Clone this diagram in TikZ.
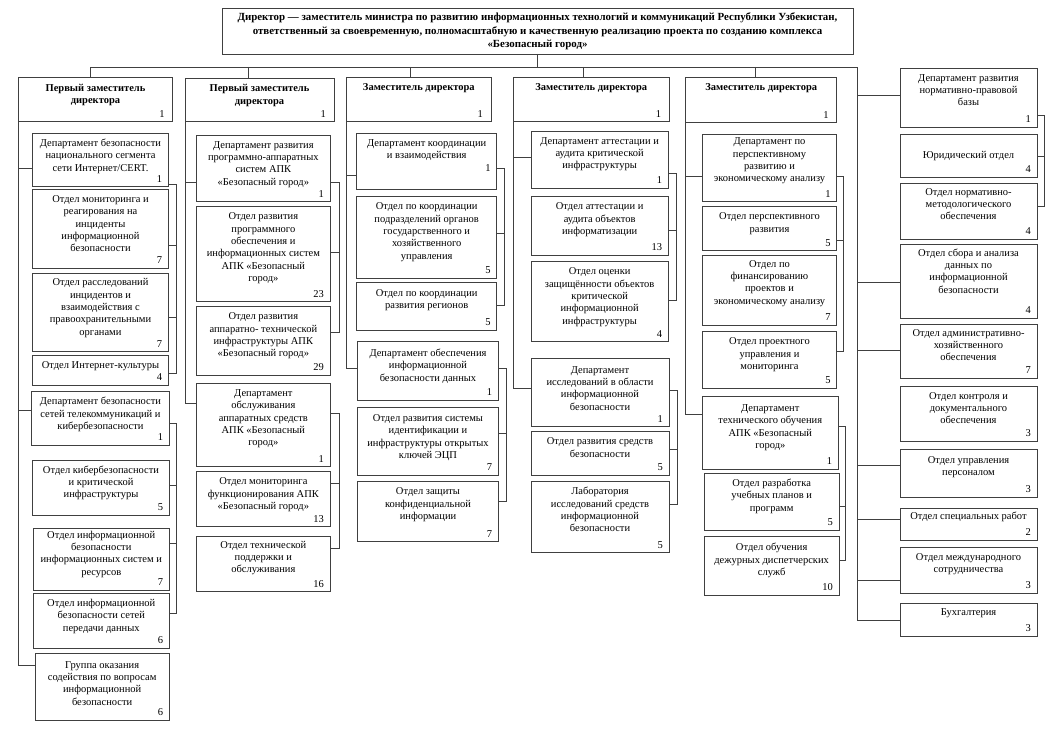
\documentclass[tikz,border=0pt]{standalone}
\usepackage{fontspec}
\setmainfont{Liberation Serif}
\tikzset{
  boxst/.style={draw=black!75, line width=0.7pt, inner sep=0pt, outer sep=0pt},
  txt/.style={inner sep=0pt, align=center, font=\fontsize{10.5}{12.3}\selectfont, anchor=north},
  htxt/.style={inner sep=0pt, align=center, font=\bfseries\fontsize{10.5}{12.7}\selectfont, anchor=north},
  numst/.style={inner sep=0pt, font=\fontsize{10.5}{12}\selectfont, anchor=east},
  ln/.style={draw=black!75, line width=0.7pt},
}
% name, x1, y1, x2, y2, first-line y, text, number
\newcommand\ob[8]{%
  \node[boxst, anchor=north west, minimum width={(#4-#2)*1pt}, minimum height={(#5-#3)*1pt}] (#1) at (#2,#3) {};
  \node[txt] (#1t) at ({(#2+#4)/2},{#6-5}) {\rule{0pt}{8pt}#7};
  \node[numst] (#1n) at ({#4-6},{#5-8}) {#8};
}
\newcommand\hb[8]{%
  \node[boxst, anchor=north west, minimum width={(#4-#2)*1pt}, minimum height={(#5-#3)*1pt}] (#1) at (#2,#3) {};
  \node[htxt] (#1t) at ({(#2+#4)/2},{#6-5}) {\rule{0pt}{8pt}#7};
  \node[numst] (#1n) at ({#4-8},{#5-8}) {#8};
}
\begin{document}
\begin{tikzpicture}[x=1pt,y=-1pt]
\useasboundingbox (0,0) rectangle (1054,738);
\fill[white] (0,0) rectangle (1054,738);

% title
\node[boxst, anchor=north west, minimum width=631pt, minimum height=46pt] (title) at (222,8) {};
\node[inner sep=0pt, align=center, anchor=north, font=\bfseries\fontsize{10.9}{13.5}\selectfont] (titlet) at (537.5,12.5) {\rule{0pt}{8pt}Директор — заместитель министра по развитию информационных технологий и коммуникаций Республики Узбекистан,\\ответственный за своевременную, полномасштабную и качественную реализацию проекта по созданию комплекса\\«Безопасный город»};

% heads
\hb{h1}{18.3}{77.3}{172.7}{121.7}{88}{Первый заместитель\\директора}{1}
\hb{h2}{185}{78.3}{334}{121.7}{88.3}{Первый заместитель\\директора}{1}
\hb{h3}{346.7}{77.3}{491}{121.7}{87.3}{Заместитель директора}{1}
\hb{h4}{513.3}{77.3}{669.3}{121.7}{87.3}{Заместитель директора}{1}
\hb{h5}{685.7}{77.3}{836.7}{122.7}{87.3}{Заместитель директора}{1}

% column 1
\ob{c1d1}{32.7}{133.3}{168.3}{186.7}{143.3}{Департамент безопасности\\национального сегмента\\сети Интернет/CERT.}{1}
\ob{c1s1}{32.7}{189.3}{168.3}{268.3}{199.3}{Отдел мониторинга и\\реагирования на\\инциденты\\информационной\\безопасности}{7}
\ob{c1s2}{32.7}{273.3}{168.3}{351.7}{282.7}{Отдел расследований\\инцидентов и\\взаимодействия с\\правоохранительными\\органами}{7}
\ob{c1s3}{32.7}{355}{168.3}{385}{365.7}{Отдел Интернет-культуры}{4}
\ob{c1d2}{31.7}{391.7}{169.3}{445}{401.7}{Департамент безопасности\\сетей телекоммуникаций и\\кибербезопасности}{1}
\ob{c1s4}{32.7}{460}{169.3}{515}{470}{Отдел кибербезопасности\\и критической\\инфраструктуры}{5}
\ob{c1s5}{33.3}{528.3}{169.3}{590}{535}{Отдел информационной\\безопасности\\информационных систем и\\ресурсов}{7}
\ob{c1s6}{33.3}{593.3}{169.3}{648.3}{603.3}{Отдел информационной\\безопасности сетей\\передачи данных}{6}
\ob{c1g}{35}{653.3}{169.3}{720}{665}{Группа оказания\\содействия по вопросам\\информационной\\безопасности}{6}

% column 2
\ob{c2d1}{196.7}{135}{330}{201.7}{145}{Департамент развития\\программно-аппаратных\\систем АПК\\«Безопасный город»}{1}
\ob{c2s1}{196.7}{206.7}{330}{301.7}{216.7}{Отдел развития\\программного\\обеспечения и\\информационных систем\\АПК «Безопасный\\город»}{23}
\ob{c2s2}{196.7}{306}{330}{375}{316.7}{Отдел развития\\аппаратно- технической\\инфраструктуры АПК\\«Безопасный город»}{29}
\ob{c2d2}{196.7}{383.3}{330}{466.7}{393.3}{Департамент\\обслуживания\\аппаратных средств\\АПК «Безопасный\\город»}{1}
\ob{c2s3}{196.7}{471.7}{330}{526.7}{481.7}{Отдел мониторинга\\функционирования АПК\\«Безопасный город»}{13}
\ob{c2s4}{196.7}{536.7}{330}{591.7}{545}{Отдел технической\\поддержки и\\обслуживания}{16}

% column 3
\ob{c3d1}{356.7}{133.3}{496.7}{189.3}{143.3}{Департамент координации\\и взаимодействия}{}
\node[numst] (c3d1n) at (490.7,168.3) {1};
\ob{c3s1}{356.7}{196.7}{496.7}{278.3}{206.7}{Отдел по координации\\подразделений органов\\государственного и\\хозяйственного\\управления}{5}
\ob{c3s2}{356.7}{282.7}{496.7}{330}{293.3}{Отдел по координации\\развития регионов}{5}
\ob{c3d2}{357.7}{341.7}{498.3}{400}{353.3}{Департамент обеспечения\\информационной\\безопасности данных}{1}
\ob{c3s3}{357.7}{407.3}{498.3}{475}{418.3}{Отдел развития системы\\идентификации и\\инфраструктуры открытых\\ключей ЭЦП}{7}
\ob{c3s4}{357.7}{481}{498.3}{541.7}{491.7}{Отдел защиты\\конфиденциальной\\информации}{7}

% column 4
\ob{c4d1}{531}{131}{668.3}{188.3}{141}{Департамент аттестации и\\аудита критической\\инфраструктуры}{1}
\ob{c4s1}{531}{196}{668.3}{255}{206.7}{Отдел аттестации и\\аудита объектов\\информатизации}{13}
\ob{c4s2}{531}{261}{668.3}{341.7}{271.7}{Отдел оценки\\защищённости объектов\\критической\\информационной\\инфраструктуры}{4}
\ob{c4d2}{531}{358.3}{669}{426.7}{370}{Департамент\\исследований в области\\информационной\\безопасности}{1}
\ob{c4s3}{531}{431.7}{669}{475}{441.7}{Отдел развития средств\\безопасности}{5}
\ob{c4s4}{531}{481}{669}{552.7}{491.7}{Лаборатория\\исследований средств\\информационной\\безопасности}{5}

% column 5
\ob{c5d1}{702.3}{134}{836.7}{201.7}{141.7}{Департамент по\\перспективному\\развитию и\\экономическому анализу}{1}
\ob{c5s1}{702.3}{206.7}{836.7}{250.7}{216.7}{Отдел перспективного\\развития}{5}
\ob{c5s2}{702.3}{255}{836.7}{325}{264}{Отдел по\\финансированию\\проектов и\\экономическому анализу}{7}
\ob{c5s3}{702.3}{331.7}{836.7}{388.3}{341.7}{Отдел проектного\\управления и\\мониторинга}{5}
\ob{c5d2}{702.3}{396.7}{838.3}{469.3}{408.3}{Департамент\\технического обучения\\АПК «Безопасный\\город»}{1}
\ob{c5s4}{704.3}{473.3}{839}{530}{483.3}{Отдел разработка\\учебных планов и\\программ}{5}
\ob{c5s5}{704.3}{536.7}{839}{595}{547.7}{Отдел обучения\\дежурных диспетчерских\\служб}{10}

% column 6
\ob{r1}{900}{68}{1037}{127}{78}{Департамент развития\\нормативно-правовой\\базы}{1}
\ob{r2}{900}{134}{1037}{177}{155}{Юридический отдел}{4}
\ob{r3}{900}{183}{1037}{239}{192}{Отдел нормативно-\\методологического\\обеспечения}{4}
\ob{r4}{900}{244}{1037}{318}{253}{Отдел сбора и анализа\\данных по\\информационной\\безопасности}{4}
\ob{r5}{900}{324}{1037}{378}{333}{Отдел административно-\\хозяйственного\\обеспечения}{7}
\ob{r6}{900}{386}{1037}{441}{396}{Отдел контроля и\\документального\\обеспечения}{3}
\ob{r7}{900}{449}{1037}{497}{460}{Отдел управления\\персоналом}{3}
\ob{r8}{900}{508}{1037}{540}{516}{Отдел специальных работ}{2}
\ob{r9}{900}{547}{1037}{593}{557}{Отдел международного\\сотрудничества}{3}
\ob{r10}{900}{603}{1037}{636}{612}{Бухгалтерия}{3}

% main bus
\draw[ln] (title.south) -- (title.south |- 0,67);
\draw[ln] (h1.north -| 90,0) -- (90,67) -- (857,67) -- (857,620) -- (r10.west |- 0,620);
\draw[ln] (248.3,67) -- (h2.north -| 248.3,0);
\draw[ln] (410,67) -- (h3.north -| 410,0);
\draw[ln] (583.3,67) -- (h4.north -| 583.3,0);
\draw[ln] (755,67) -- (h5.north -| 755,0);
\foreach \n/\y in {r1/95, r4/282, r5/350, r7/465, r8/519, r9/580}
  \draw[ln] (857,\y) -- (\n.west |- 0,\y);
\draw[ln] (r1.east |- 0,115) -- (1044,115) -- (1044,206) -- (r3.east |- 0,206);
\draw[ln] (r2.east |- 0,156) -- (1044,156);

% column 1 spine and brackets
\draw[ln] (h1.south west) -- (h1.south west |- 0,665) -- (c1g.west |- 0,665);
\draw[ln] (h1.south west |- 0,168.3) -- (c1d1.west |- 0,168.3);
\draw[ln] (h1.south west |- 0,410) -- (c1d2.west |- 0,410);
\draw[ln] (c1d1.east |- 0,184) -- (176,184) -- (176,373) -- (c1s3.east |- 0,373);
\draw[ln] (c1s1.east |- 0,245) -- (176,245);
\draw[ln] (c1s2.east |- 0,317.7) -- (176,317.7);
\draw[ln] (c1d2.east |- 0,423.3) -- (176.7,423.3) -- (176.7,613.3) -- (c1s6.east |- 0,613.3);
\draw[ln] (c1s4.east |- 0,485) -- (176.7,485);
\draw[ln] (c1s5.east |- 0,543.3) -- (176.7,543.3);

% column 2
\draw[ln] (h2.south west) -- (h2.south west |- 0,403.3) -- (c2d2.west |- 0,403.3);
\draw[ln] (h2.south west |- 0,182.7) -- (c2d1.west |- 0,182.7);
\draw[ln] (c2d1.east |- 0,182.7) -- (339.3,182.7) -- (339.3,332.7) -- (c2s2.east |- 0,332.7);
\draw[ln] (c2s1.east |- 0,252.7) -- (339.3,252.7);
\draw[ln] (c2d2.east |- 0,413.3) -- (339.3,413.3) -- (339.3,548.3) -- (c2s4.east |- 0,548.3);
\draw[ln] (c2s3.east |- 0,483.3) -- (339.3,483.3);

% column 3
\draw[ln] (h3.south west) -- (h3.south west |- 0,368.3) -- (c3d2.west |- 0,368.3);
\draw[ln] (h3.south west |- 0,175) -- (c3d1.west |- 0,175);
\draw[ln] (c3d1.east |- 0,168.3) -- (504.3,168.3) -- (504.3,305) -- (c3s2.east |- 0,305);
\draw[ln] (c3s1.east |- 0,233.3) -- (504.3,233.3);
\draw[ln] (c3d2.east |- 0,368.3) -- (506.7,368.3) -- (506.7,501.7) -- (c3s4.east |- 0,501.7);
\draw[ln] (c3s3.east |- 0,433.3) -- (506.7,433.3);

% column 4
\draw[ln] (h4.south west) -- (h4.south west |- 0,388.3) -- (c4d2.west |- 0,388.3);
\draw[ln] (h4.south west |- 0,157.7) -- (c4d1.west |- 0,157.7);
\draw[ln] (c4d1.east |- 0,173.3) -- (676.7,173.3) -- (676.7,300.7) -- (c4s2.east |- 0,300.7);
\draw[ln] (c4s1.east |- 0,230) -- (676.7,230);
\draw[ln] (c4d2.east |- 0,390) -- (677.7,390) -- (677.7,504) -- (c4s4.east |- 0,504);
\draw[ln] (c4s3.east |- 0,449.3) -- (677.7,449.3);

% column 5
\draw[ln] (h5.south west) -- (h5.south west |- 0,414.3) -- (c5d2.west |- 0,414.3);
\draw[ln] (h5.south west |- 0,176.7) -- (c5d1.west |- 0,176.7);
\draw[ln] (c5d1.east |- 0,176.7) -- (843.3,176.7) -- (843.3,351.7) -- (c5s3.east |- 0,351.7);
\draw[ln] (c5s1.east |- 0,240) -- (843.3,240);
\draw[ln] (c5d2.east |- 0,426.7) -- (845,426.7) -- (845,560) -- (c5s5.east |- 0,560);
\draw[ln] (c5s4.east |- 0,506.7) -- (845,506.7);
\end{tikzpicture}
\end{document}
